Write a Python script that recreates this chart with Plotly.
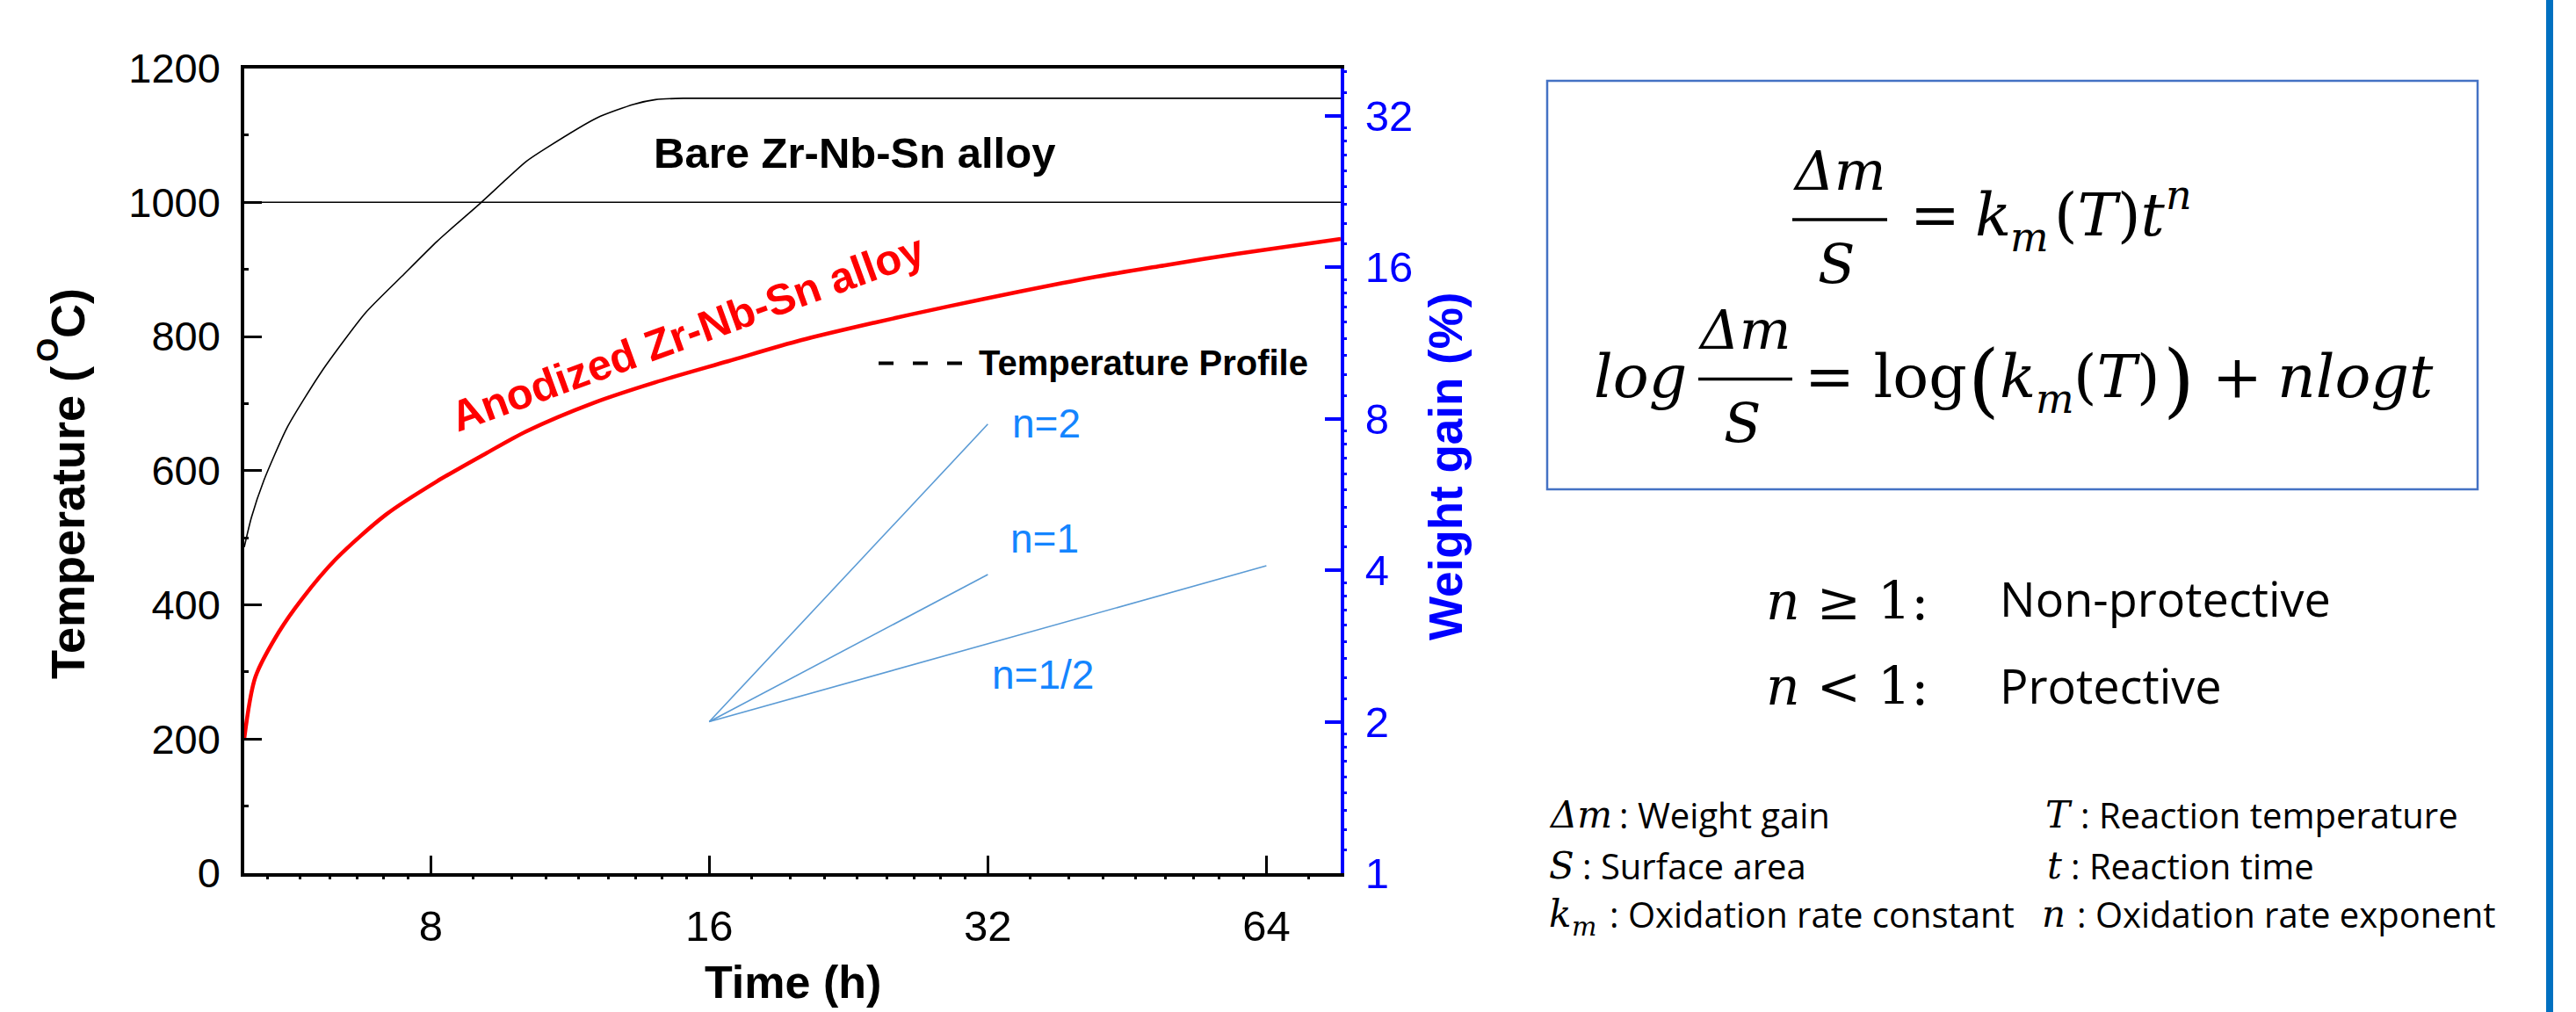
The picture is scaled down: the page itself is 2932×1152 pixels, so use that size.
import numpy as np
import plotly.graph_objects as go

# ---------------- data ----------------
TIME_TEMP_H = [5.03, 5.12, 5.28, 5.6, 6.1, 6.8, 7.45, 8.13, 9.04, 10.15, 10.67, 12.11, 13.26, 14.0, 15.0, 77.0]
TEMP_C = [486, 530, 585, 665, 748, 835, 890, 942, 998, 1061, 1081, 1126, 1146, 1153, 1155, 1155]

TIME_WG_H = [5.03, 5.17, 5.48, 5.81, 6.32, 7.16, 8.12, 9.2, 10.15, 12.0, 14.0, 16.76, 20.1, 24.1, 28.9, 34.6, 41.4, 49.6, 59.4, 77.0]
WEIGHT_GAIN_PCT = [1.85, 2.45, 3.01, 3.51, 4.21, 5.16, 6.0, 6.84, 7.55, 8.6, 9.45, 10.4, 11.45, 12.4, 13.35, 14.3, 15.25, 16.12, 17.0, 18.2]

REF_TEMP_C = 1000

SLOPE_LABELS = ["n=2", "n=1", "n=1/2"]
SLOPE_T0 = 16
SLOPE_W0 = 2
SLOPE_T_END = [32, 32, 64]
SLOPE_W_END = [7.8, 3.92, 4.08]

X_TICKS = [8, 16, 32, 64]
Y_TICKS = [0, 200, 400, 600, 800, 1000, 1200]
Y2_TICKS = [1, 2, 4, 8, 16, 32]
X_RANGE_H = [5.03, 77.0]
Y_RANGE_C = [0, 1200]
Y2_RANGE = [1, 39.76]

# ---------------- layout helpers ----------------
W, H = 2932, 1152
def px(x):
    return x / W
def py(y):
    return 1 - y / H

X_L, X_R, Y_T, Y_B = 278, 1526, 77.5, 994
BLUE = "#0000FF"
LBLUE_LINE = "#5B9BD5"
LBLUE_TXT = "#1485FF"
SANS = "Liberation Sans, Arial, sans-serif"
SERIF = "DejaVu Serif, serif"
BODY = "Open Sans, sans-serif"

def minor_between(majors, lo, hi):
    out = []
    for a in majors:
        for k in range(1, 9):
            v = a + k * a / 9
            if lo < v < hi:
                out.append(v)
    return out

X_MINOR = minor_between([4, 8, 16, 32, 64], X_RANGE_H[0], X_RANGE_H[1])
Y2_MINOR = minor_between(Y2_TICKS, Y2_RANGE[0], Y2_RANGE[1])

fig = go.Figure()

fig.add_trace(go.Scatter(x=TIME_TEMP_H, y=TEMP_C, mode="lines", name="Temperature Profile",
                         line=dict(color="black", width=1.6, shape="spline", smoothing=0.6),
                         xaxis="x", yaxis="y", showlegend=False))
fig.add_trace(go.Scatter(x=TIME_WG_H, y=WEIGHT_GAIN_PCT, mode="lines", name="Anodized Zr-Nb-Sn alloy",
                         line=dict(color="#FF0000", width=4.5, shape="spline", smoothing=0.8),
                         xaxis="x", yaxis="y2", showlegend=False))
for lab, te, we in zip(SLOPE_LABELS, SLOPE_T_END, SLOPE_W_END):
    fig.add_trace(go.Scatter(x=[SLOPE_T0, te], y=[SLOPE_W0, we], mode="lines", name=lab,
                             line=dict(color=LBLUE_LINE, width=1.6),
                             xaxis="x", yaxis="y2", showlegend=False))

axis_common = dict(showgrid=False, zeroline=False)

fig.update_layout(
    width=W, height=H, margin=dict(l=0, r=0, t=0, b=0),
    paper_bgcolor="white", plot_bgcolor="white", showlegend=False,
    xaxis=dict(**axis_common, type="log", domain=[px(X_L), px(X_R)],
               range=[np.log10(X_RANGE_H[0]), np.log10(X_RANGE_H[1])],
               tickmode="array", tickvals=X_TICKS, ticktext=[str(v) for v in X_TICKS],
               ticks="inside", ticklen=20, tickwidth=3, tickcolor="black",
               showline=True, linewidth=4, linecolor="black", mirror=True,
               tickfont=dict(family=SANS, size=49, color="black"), ticklabelstandoff=14,
               minor=dict(tickvals=X_MINOR, ticks="outside", ticklen=3, tickwidth=3,
                          tickcolor="black", showgrid=False),
               anchor="y", automargin=False),
    xaxis2=dict(**axis_common, type="log", overlaying="x", side="top", anchor="y",
                domain=[px(X_L), px(X_R)],
                range=[np.log10(X_RANGE_H[0]), np.log10(X_RANGE_H[1])],
                tickmode="array", tickvals=X_MINOR + X_TICKS, ticks="outside", ticklen=3,
                tickwidth=3, tickcolor="black", showticklabels=False, showline=False,
                automargin=False),
    yaxis=dict(**axis_common, domain=[py(Y_B), py(Y_T)], range=Y_RANGE_C,
               tickmode="array", tickvals=Y_TICKS, ticktext=[str(v) for v in Y_TICKS],
               ticks="inside", ticklen=20, tickwidth=3, tickcolor="black",
               showline=True, linewidth=3.5, linecolor="black",
               tickfont=dict(family=SANS, size=47, color="black"), ticklabelstandoff=14,
               minor=dict(dtick=100, ticks="inside", ticklen=5, tickwidth=3,
                          tickcolor="black", showgrid=False),
               anchor="x", automargin=False),
    yaxis2=dict(**axis_common, type="log", overlaying="y", side="right", anchor="x",
                range=[np.log10(Y2_RANGE[0]), np.log10(Y2_RANGE[1])],
                tickmode="array", tickvals=Y2_TICKS, ticktext=[str(v) for v in Y2_TICKS],
                ticks="inside", ticklen=18, tickwidth=3.5, tickcolor=BLUE,
                showline=True, linewidth=4, linecolor=BLUE,
                tickfont=dict(family=SANS, size=49, color=BLUE), ticklabelstandoff=14,
                minor=dict(tickvals=Y2_MINOR, ticks="outside", ticklen=3, tickwidth=3,
                           tickcolor=BLUE, showgrid=False),
                automargin=False),
)

shapes = []
# 1000 C reference line
shapes.append(dict(type="line", xref="x domain", x0=0, x1=1, yref="y", y0=REF_TEMP_C, y1=REF_TEMP_C,
                   line=dict(color="black", width=1.6), layer="below"))
# legend dashes for "Temperature Profile"
shapes.append(dict(type="line", xref="paper", yref="paper", x0=px(1000), x1=px(1096),
                   y0=py(413.5), y1=py(413.5), line=dict(color="black", width=4, dash="17px,22px")))
# equation box
shapes.append(dict(type="rect", xref="paper", yref="paper", x0=px(1761), x1=px(2820),
                   y0=py(557), y1=py(92), line=dict(color="#4472C4", width=2.5)))
# fraction bars
shapes.append(dict(type="line", xref="paper", yref="paper", x0=px(2040), x1=px(2148),
                   y0=py(250), y1=py(250), line=dict(color="black", width=3.5)))
shapes.append(dict(type="line", xref="paper", yref="paper", x0=px(1933), x1=px(2040),
                   y0=py(431.5), y1=py(431.5), line=dict(color="black", width=3.5)))
# slide edge bar
shapes.append(dict(type="rect", xref="paper", yref="paper", x0=px(2898), x1=px(2906),
                   y0=0, y1=1, fillcolor="#0070C0", line=dict(width=0)))
fig.update_layout(shapes=shapes)

anns = []
def ann(text, x, y, size, family=SANS, color="black", xanchor="center", angle=0, bold=False):
    anns.append(dict(text=(f"<b>{text}</b>" if bold else text), x=px(x), y=py(y), xref="paper", yref="paper",
                     xanchor=xanchor, yanchor="middle", showarrow=False, textangle=angle,
                     font=dict(family=family, size=size, color=color)))

# plot labels
ann("Bare Zr-Nb-Sn alloy", 972, 174, 49, bold=True)
ann("Anodized Zr-Nb-Sn alloy", 782, 379, 49, color="#FF0000", angle=-20, bold=True)
ann("Temperature Profile", 1112, 413, 40, xanchor="left", bold=True)
for lab, (cx, cy) in zip(SLOPE_LABELS, [(1191, 482), (1189, 613), (1187, 768)]):
    ann(lab, cx, cy, 46, color=LBLUE_TXT)

# axis titles (left title built in pieces: "Temperature (" + raised "O" + "C)")
ann("Temperature (", 77, 595, 54, angle=-90, bold=True)
ann("O", 53, 399, 35, angle=-90, bold=True)
ann("C)", 77, 357, 54, angle=-90, bold=True)
ann("Weight gain (%)", 1645, 531, 53, color=BLUE, angle=-90, bold=True)
ann("Time (h)", 902, 1118, 52, bold=True)

# equation 1:  Δm/S = k_m(T) t^n
ann("<i>Δm</i>", 2094, 194, 62, family=SERIF)
ann("<i>S</i>", 2090, 300, 62, family=SERIF)
ann("=", 2172, 244, 68, family=SERIF, xanchor="left")
ann("<i>k</i>", 2246, 244, 68, family=SERIF, xanchor="left")
ann("<i>m</i>", 2286, 270, 46, family=SERIF, xanchor="left")
ann("(<i>T</i>)<i>t</i>", 2336, 244, 68, family=SERIF, xanchor="left")
ann("<i>n</i>", 2463, 222, 46, family=SERIF, xanchor="left")

# equation 2:  log Δm/S = log(k_m(T)) + n log t
ann("<i>log</i>", 1922, 428, 68, family=SERIF, xanchor="right")
ann("<i>Δm</i>", 1986, 376, 62, family=SERIF)
ann("<i>S</i>", 1983, 481, 62, family=SERIF)
ann("= log", 2052, 428, 68, family=SERIF, xanchor="left")
ann("(", 2238, 432, 92, family=SERIF, xanchor="left")
ann("<i>k</i>", 2274, 428, 68, family=SERIF, xanchor="left")
ann("<i>m</i>", 2315, 454, 46, family=SERIF, xanchor="left")
ann("(<i>T</i>)", 2358, 428, 68, family=SERIF, xanchor="left")
ann(")", 2460, 432, 92, family=SERIF, xanchor="left")
ann("+", 2516, 428, 68, family=SERIF, xanchor="left")
ann("<i>nlogt</i>", 2590, 428, 68, family=SERIF, xanchor="left")

# criteria
ann("<i>n</i> ≥ 1:", 2008, 684, 60, family=SERIF, xanchor="left")
ann("Non-protective", 2274, 681, 54, family=BODY, xanchor="left")
ann("<i>n</i> < 1:", 2008, 781, 60, family=SERIF, xanchor="left")
ann("Protective", 2274, 780, 54, family=BODY, xanchor="left")

# symbol legend
rows = [
    ("<i>Δm</i>", 1761, ": Weight gain", 1841, 927),
    ("<i>S</i>", 1761, ": Surface area", 1799, 985),
    ("<i>k</i>", 1761, ": Oxidation rate constant", 1830, 1040),
    ("<i>T</i>", 2326, ": Reaction temperature", 2366, 927),
    ("<i>t</i>", 2328, ": Reaction time", 2355, 985),
    ("<i>n</i>", 2322, ": Oxidation rate exponent", 2362, 1040),
]
for sym, sx, txt, tx, cy in rows:
    ann(sym, sx, cy, 42, family=SERIF, xanchor="left")
    ann(txt, tx, cy, 40, family=BODY, xanchor="left")
ann("<i>m</i>", 1787, 1054, 30, family=SERIF, xanchor="left")

fig.update_layout(annotations=anns)

fig.write_html("out.html")
